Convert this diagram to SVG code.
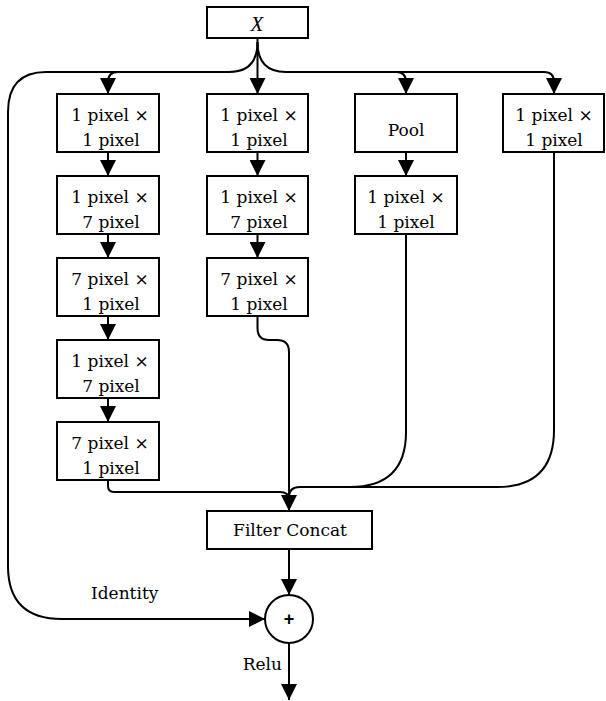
<svg xmlns="http://www.w3.org/2000/svg" width="606" height="701" viewBox="0 0 606 701">
<style>
.box{fill:#fff;stroke:#000;stroke-width:2}
.t{font-family:"DejaVu Serif","Liberation Serif",serif;font-size:17px;fill:#000;text-anchor:middle}
.c{fill:none;stroke:#000;stroke-width:2}
</style>
<defs>
<marker id="ah" markerUnits="userSpaceOnUse" markerWidth="16" markerHeight="16" viewBox="0 0 16 16" refX="16" refY="8" orient="auto">
<path d="M0,0 L16,8 L0,16 z" fill="#000"/>
</marker>
</defs>
<rect width="606" height="701" fill="#fff"/>
<g id="connectors">
<path class="c" d="M257.5,38 V94" marker-end="url(#ah)"/>
<path class="c" d="M257.5,42 Q257.5,72 229,72 H118 Q108,72 108,82 V94" marker-end="url(#ah)"/>
<path class="c" d="M257.5,42 Q257.5,72 286,72 H396 Q406,72 406,82 V94" marker-end="url(#ah)"/>
<path class="c" d="M396,72 H544 Q554,72 554,82 V94" marker-end="url(#ah)"/>
<path class="c" d="M118,72 H46 Q8,72 8,112 V566 Q8,619 62,619 H265" marker-end="url(#ah)"/>
<path class="c" d="M108,152 V176" marker-end="url(#ah)"/>
<path class="c" d="M108,234 V258" marker-end="url(#ah)"/>
<path class="c" d="M108,316 V340" marker-end="url(#ah)"/>
<path class="c" d="M108,398 V422" marker-end="url(#ah)"/>
<path class="c" d="M257.5,152 V176" marker-end="url(#ah)"/>
<path class="c" d="M257.5,234 V258" marker-end="url(#ah)"/>
<path class="c" d="M406,152 V176" marker-end="url(#ah)"/>
<path class="c" d="M108,480 V486 Q108,492 114,492 H280 Q289,492 289,500"/>
<path class="c" d="M406,234 V432 Q406,487 350,487 H300 Q289,487 289,497"/>
<path class="c" d="M554,152 V430 Q554,487 497,487 H345"/>
<path class="c" d="M257.5,316 V328 Q257.5,340 269,340 H277 Q289,340 289,352 V511" marker-end="url(#ah)"/>
<path class="c" d="M289,549 V595" marker-end="url(#ah)"/>
<path class="c" d="M289,643 V700" marker-end="url(#ah)"/>
</g>
<g id="nodeX"><rect class="box" x="207" y="7" width="101" height="31"/><text x="257" y="30.5" style="font-family:'Liberation Serif',serif;font-style:italic;font-size:21px;text-anchor:middle">X</text></g>
<g id="c1r1"><rect class="box" x="57" y="94" width="102" height="58"/><text class="t" x="110" y="121">1 pixel ×</text><text class="t" x="111" y="146">1 pixel</text></g>
<g id="c1r2"><rect class="box" x="57" y="176" width="102" height="58"/><text class="t" x="110" y="203">1 pixel ×</text><text class="t" x="111" y="228">7 pixel</text></g>
<g id="c1r3"><rect class="box" x="57" y="258" width="102" height="58"/><text class="t" x="110" y="285">7 pixel ×</text><text class="t" x="111" y="310">1 pixel</text></g>
<g id="c1r4"><rect class="box" x="57" y="340" width="102" height="58"/><text class="t" x="110" y="367">1 pixel ×</text><text class="t" x="111" y="392">7 pixel</text></g>
<g id="c1r5"><rect class="box" x="57" y="422" width="102" height="58"/><text class="t" x="110" y="449">7 pixel ×</text><text class="t" x="111" y="474">1 pixel</text></g>
<g id="c2r1"><rect class="box" x="207" y="94" width="101" height="58"/><text class="t" x="259" y="121">1 pixel ×</text><text class="t" x="259" y="146">1 pixel</text></g>
<g id="c2r2"><rect class="box" x="207" y="176" width="101" height="58"/><text class="t" x="259" y="203">1 pixel ×</text><text class="t" x="259" y="228">7 pixel</text></g>
<g id="c2r3"><rect class="box" x="207" y="258" width="101" height="58"/><text class="t" x="259" y="285">7 pixel ×</text><text class="t" x="259" y="310">1 pixel</text></g>
<g id="pool"><rect class="box" x="355" y="94" width="102" height="58"/><text class="t" x="406" y="136">Pool</text></g>
<g id="c3r2"><rect class="box" x="355" y="176" width="102" height="58"/><text class="t" x="406" y="203">1 pixel ×</text><text class="t" x="406" y="228">1 pixel</text></g>
<g id="c4r1"><rect class="box" x="503" y="94" width="101" height="58"/><text class="t" x="554" y="121">1 pixel ×</text><text class="t" x="554" y="146">1 pixel</text></g>
<g id="concat"><rect class="box" x="207" y="511" width="165" height="38"/><text class="t" x="290" y="536">Filter Concat</text></g>
<g id="add"><circle cx="289" cy="619" r="24" fill="#fff" stroke="#000" stroke-width="2"/><text x="289" y="625" style="font-family:'Liberation Sans',sans-serif;font-weight:bold;font-size:18px;text-anchor:middle">+</text></g>
<g id="labels"><text class="t" x="91" y="599" style="text-anchor:start">Identity</text><text class="t" x="282" y="670" style="text-anchor:end">Relu</text></g>
</svg>
